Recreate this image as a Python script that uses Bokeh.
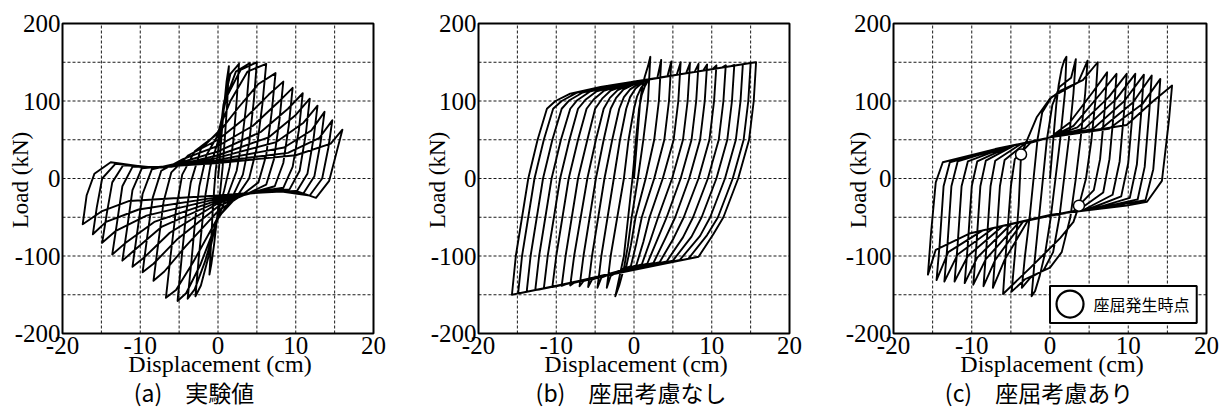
import math
from bokeh.plotting import figure
from bokeh.layouts import row
from bokeh.models import Range1d
from bokeh.core.properties import value
from bokeh.embed import file_html
from bokeh.resources import INLINE

# ---------------- axes / ticks ----------------
x_tick_values = [-20, -10, 0, 10, 20]
y_tick_values = [-200, -100, 0, 100, 200]
x_grid_values = [-15, -10, -5, 0, 5, 10, 15]
y_grid_values = [-150, -100, -50, 0, 50, 100, 150]
x_limits = (-20, 20)
y_limits = (-200, 200)
x_label = "Displacement (cm)"
y_label = "Load (kN)"
captions = ["(a)\u3000実験値", "(b)\u3000座屈考慮なし", "(c)\u3000座屈考慮あり"]

# ---------------- (a) 実験値 ----------------
a_pos_peak_x = [1.4, 2.7, 4.1, 5.0, 6.2, 7.4, 8.4, 9.6, 10.9, 11.8, 12.8, 13.7, 14.7, 16.0]
a_pos_peak_y = [145, 148, 149, 150, 148, 136, 125, 117, 110, 103, 94, 86, 75, 63]
a_neg_peak_x = [-1.1, -2.9, -3.9, -5.2, -6.7, -8.3, -9.7, -11.0, -12.3, -13.6, -14.9, -16.1, -17.4]
a_neg_peak_y = [-124, -152, -155, -158, -154, -132, -121, -114, -106, -98, -83, -72, -59]

a_load_steep = [(0.0, 0), (-0.9, -85), (-2.5, -105), (-3.4, -105), (-4.7, -105), (-6.1, -100), (-7.7, -85),
                (-9.1, -75), (-10.4, -70), (-11.7, -65), (-13.0, -58), (-14.3, -45), (-15.6, -38), (-16.9, -22)]
a_load_knee = [(0.1, 10), (-0.7, -45), (-2.0, -55), (-2.9, -50), (-4.1, -45), (-5.4, -40), (-7.0, -30),
               (-8.4, -25), (-9.7, -20), (-11.0, -15), (-12.3, -10), (-13.6, -5), (-14.9, 0), (-15.9, 6)]
a_load_bandstart = [(0.2, 22), (-0.5, -15), (-1.6, -20), (-2.4, -10), (-3.5, -5), (-4.6, 5), (-6.0, 8),
                    (-7.3, 10), (-8.5, 12), (-9.8, 13), (-11.0, 15), (-12.2, 17), (-13.2, 19), (-13.8, 21)]
a_load_band = [(0.3, 35), (-0.3, 10), (-1.0, 15), (-1.5, 30), (-2.2, 38), (-3.0, 35), (-3.8, 30),
               (-4.5, 25), (-5.0, 20), (-5.5, 17), (-6.0, 15), (-7.0, 14), (-8.0, 14), (-8.7, 14)]
a_load_hub = [(0.45, 55), (0, 35), (0, 48), (0, 56), (0, 60), (0, 58), (0, 50),
              (0, 42), (0, 35), (0, 30), (0, 27), (0, 24), (0, 22), (0, 20)]
a_load_fan = [(0.75, 90), (0.7, 95), (0.9, 100), (1.1, 105), (1.6, 100), (2.5, 90), (3.5, 78),
              (4.5, 68), (5.5, 60), (6.5, 53), (7.5, 47), (8.5, 40), (9.0, 33), (10.0, 30)]
a_load_near = [(1.1, 125), (1.6, 135), (2.3, 138), (2.9, 140), (3.8, 138), (5.2, 122), (6.5, 108),
               (7.7, 98), (9.0, 90), (10.0, 82), (11.0, 72), (12.0, 62), (13.0, 52), (14.5, 45)]

a_unload_steep = [(1.2, 100), (2.4, 100), (3.7, 100), (4.6, 100), (5.7, 95), (6.9, 85), (7.9, 75),
                  (9.1, 68), (10.4, 62), (11.3, 58), (12.3, 52), (13.2, 47), (14.2, 40), (15.2, 32)]
a_unload_knee = [(0.9, 55), (2.0, 50), (3.1, 50), (4.0, 45), (5.0, 40), (6.2, 30), (7.2, 25),
                 (8.4, 20), (9.6, 15), (10.5, 10), (11.5, 6), (12.4, 3), (13.4, 0), (14.3, -3)]
a_unload_bandstart = [(0.6, 15), (1.5, 15), (2.4, 10), (3.2, 5), (4.0, 0), (5.2, -5), (6.2, -8),
                      (7.3, -10), (8.4, -12), (9.2, -14), (10.1, -17), (11.0, -19), (11.8, -22), (12.6, -25)]
a_unload_band = [(0.3, -15), (0.8, -15), (1.3, -20), (1.8, -25), (2.3, -25), (3.0, -22), (3.7, -20),
                 (4.4, -18), (5.0, -17), (5.6, -16), (6.2, -16), (6.8, -16), (7.5, -16), (10.0, -16)]
a_unload_hub = [(0, -40), (0, -45), (0, -50), (0, -52), (0, -50), (0, -42), (0, -36),
                (0, -32), (0, -30), (0, -28), (0, -26), (0, -24), (0, -22), (5.7, -18)]
a_unload_desc = [(-0.5, -85), (-1.2, -100), (-1.7, -108), (-2.3, -112), (-3.2, -108), (-4.2, -88), (-5.2, -78),
                 (-6.2, -70), (-7.2, -62), (-8.2, -56), (-9.2, -48), (-10.2, -40), (-11.4, -29), (2.0, -21)]
a_unload_near = [(-0.85, -110), (-2.2, -138), (-3.0, -143), (-4.1, -148), (-5.4, -144), (-6.9, -120), (-8.3, -110),
                 (-9.5, -102), (-10.8, -93), (-12.0, -84), (-13.2, -68), (-14.4, -56), (-14.9, -42), (0.0, -23)]

# ---------------- (b) 座屈考慮なし ----------------
b_pos_peak_x = [2.1, 3.5, 4.8, 6.0, 7.2, 8.3, 9.4, 10.6, 11.8, 12.9, 14.0, 15.0, 15.7]
b_pos_peak_y = [157, 153, 151, 150, 149, 148, 147, 146, 146, 146.5, 147.5, 149, 150]
b_neg_peak_x = [-2.4, -3.5, -4.7, -5.9, -7.0, -8.2, -9.3, -10.5, -11.6, -12.7, -13.8, -14.9, -15.7]
b_neg_peak_y = [-152, -141, -141, -140, -139, -138, -138.5, -140, -142, -144, -146, -148, -150]

b_load_rise1 = [(0.0, 0), (-1.3, -100), (-3.0, -100), (-4.2, -100), (-5.4, -100), (-6.5, -100), (-7.7, -100),
                (-8.8, -100), (-10.0, -100), (-11.1, -100), (-12.2, -100), (-13.3, -100), (-14.4, -100), (-15.2, -100)]
b_load_rise2 = [(0.2, 25), (-0.2, 0), (-1.3, 0), (-2.6, 0), (-3.8, 0), (-4.9, 0), (-6.0, 0),
                (-7.2, 0), (-8.4, 0), (-9.5, 0), (-10.6, 0), (-11.7, 0), (-12.8, 0), (-13.6, 0)]
b_load_rise3 = [(0.4, 50), (0.25, 50), (-0.7, 50), (-1.8, 50), (-2.8, 50), (-3.9, 50), (-4.9, 50),
                (-6.0, 50), (-7.2, 50), (-8.3, 50), (-9.4, 50), (-10.5, 50), (-11.6, 50), (-12.4, 50)]
b_load_rise4 = [(0.6, 75), (0.65, 90), (0.0, 90), (-1.0, 90), (-1.9, 90), (-3.0, 90), (-3.9, 90),
                (-5.0, 90), (-6.1, 90), (-7.2, 90), (-8.2, 90), (-9.3, 90), (-10.4, 90), (-11.2, 90)]
b_load_knee = [(0.8, 100), (1.0, 108), (0.4, 106), (-0.5, 105), (-1.3, 105), (-2.3, 104), (-3.1, 104),
               (-4.1, 103), (-5.2, 102), (-6.2, 102), (-7.3, 101), (-8.3, 101), (-9.3, 100), (-10.1, 100)]
b_load_arc = [(1.1, 120), (1.4, 119), (0.9, 117), (0.2, 116), (-0.5, 115), (-1.4, 114.5), (-2.1, 114),
              (-3.0, 113.5), (-3.9, 113), (-4.8, 112.5), (-5.7, 112), (-6.6, 111), (-7.4, 110.5), (-8.2, 109.5)]
b_load_merge = [(1.4, 132), (1.9, 128), (1.8, 127.5), (1.5, 127), (1.2, 126.5), (0.9, 126), (0.6, 126),
                (0.2, 125.3), (-0.3, 124.5), (-0.9, 123.5), (-1.6, 122.4), (-2.4, 121.2), (-3.3, 119.7), (-4.3, 118.1)]
b_load_prepeak = [(1.8, 145), (3.0, 129.8), (4.3, 131.9), (5.5, 133.8), (6.7, 135.7), (7.8, 137.5), (8.9, 139.2),
                  (10.1, 141.2), (11.3, 143.1), (12.4, 144.8), (13.5, 146.6), (14.5, 148.2), (15.2, 149.3), (0.5, 125.8)]

b_unload_s1 = [(1.8, 100), (3.2, 100), (4.5, 100), (5.7, 100), (6.9, 100), (8.0, 100), (9.1, 100),
               (10.3, 100), (11.5, 100), (12.6, 100), (13.7, 100), (14.7, 100), (15.4, 100)]
b_unload_s2 = [(1.2, 50), (2.6, 50), (3.9, 50), (5.1, 50), (6.3, 50), (7.4, 50), (8.5, 50),
               (9.7, 50), (10.9, 50), (12.0, 50), (13.1, 50), (14.1, 50), (14.8, 50)]
b_unload_s3 = [(0.5, 0), (1.5, 0), (2.6, 0), (3.7, 0), (4.9, 0), (6.0, 0), (7.1, 0),
               (8.3, 0), (9.5, 0), (10.6, 0), (11.7, 0), (12.7, 0), (13.4, 0)]
b_unload_s4 = [(-0.3, -50), (0.2, -50), (1.0, -50), (2.0, -50), (3.1, -50), (4.2, -50), (5.3, -50),
               (6.4, -50), (7.6, -50), (8.7, -50), (9.8, -50), (10.8, -50), (11.5, -50)]
b_unload_bend = [(-0.8, -88), (-0.4, -86), (0.3, -84), (1.2, -82), (2.1, -80), (3.0, -79), (4.0, -78),
                 (5.1, -77), (6.3, -76), (7.4, -75), (8.5, -74), (9.4, -73), (10.2, -72)]
b_unload_merge = [(-1.3, -116), (-1.0, -114), (-0.4, -113), (0.3, -112), (1.0, -111), (1.7, -110), (2.5, -109),
                  (3.3, -108), (4.2, -107), (5.0, -106), (5.9, -105), (7.0, -103.5), (8.3, -101)]
b_unload_pretrough = [(-1.9, -138), (-3.0, -125.7), (-4.2, -128), (-5.4, -130.3), (-6.5, -132.4), (-7.7, -134.6),
                      (-8.8, -136.7), (-10.0, -139), (-11.1, -141.1), (-12.2, -143.2), (-13.3, -145.3),
                      (-14.4, -147.4), (-15.2, -148.9)]

# ---------------- (c) 座屈考慮あり ----------------
c_pos_peak_x = [2.1, 3.3, 4.8, 6.1, 7.3, 8.5, 9.8, 10.9, 12.0, 13.0, 14.1, 15.6]
c_pos_peak_y = [157, 154, 152, 150, 137, 135, 135, 135, 134, 133, 128.5, 120]
c_neg_peak_x = [-2.35, -3.6, -4.9, -6.0, -7.3, -8.5, -9.8, -10.9, -12.2, -13.5, -14.5, -15.6]
c_neg_peak_y = [-152, -141, -146, -149, -141, -139, -137, -135, -133, -133, -131, -124]

c_load_1 = [(0.0, 0), (-2.0, -110), (-3.2, -100), (-4.5, -100), (-5.6, -90), (-6.9, -85), (-8.1, -85),
            (-9.4, -85), (-10.5, -85), (-11.8, -85), (-13.1, -85), (-14.1, -85), (-15.2, -70)]
c_load_2 = [(0.25, 30), (-1.4, -50), (-2.6, -50), (-4.0, -35), (-5.0, -10), (-6.4, -10), (-7.6, -10),
            (-8.9, -10), (-10.0, -10), (-11.3, -10), (-12.6, -10), (-13.6, -10), (-14.6, -5)]
c_load_3 = [(0.5, 60), (-0.9, 0), (-2.1, 0), (-3.7, 31), (-4.5, 25), (-5.8, 24), (-7.0, 23),
            (-8.2, 23), (-9.3, 22), (-10.5, 22), (-11.8, 22), (-12.8, 21), (-13.7, 21)]
c_load_4 = [(0.8, 95), (-0.4, 50), (-1.6, 50), (-1.7, 79), (-2.5, 46), (-3.2, 45), (-3.8, 44),
            (-4.5, 43), (-5.0, 42), (-5.5, 41), (-6.0, 40), (-6.5, 39), (-7.0, 38)]
c_load_5 = [(1.1, 120), (0.3, 95), (-1.0, 85), (0.0, 103), (0, 53), (0, 53), (0, 53),
            (0, 53), (0, 53), (0, 53), (0, 53), (0, 53), (0, 53)]
c_load_6 = [(1.5, 142), (1.2, 118), (0.2, 105), (1.3, 113), (2.5, 72), (3.0, 68), (3.5, 66),
            (4.5, 65), (5.5, 64), (6.5, 64), (7.5, 64), (9.8, 69)]
c_load_7 = [(1.8, 152), (2.7, 130), (3.6, 124), (4.2, 127), (5.5, 112), (6.5, 110), (7.5, 105),
            (8.5, 103), (9.5, 100), (10.6, 98), (11.8, 96), (13.2, 100)]

c_unload_1 = [(1.9, 110), (3.0, 110), (4.5, 110), (5.8, 100), (7.0, 90), (8.2, 90), (9.5, 90),
              (10.6, 90), (11.7, 90), (12.7, 88), (13.8, 85), (15.2, 75)]
c_unload_2 = [(1.3, 50), (2.4, 50), (3.9, 50), (5.3, 50), (6.4, 25), (7.6, 25), (8.9, 22),
              (10.0, 20), (11.1, 18), (12.1, 15), (13.2, 12), (14.3, -3)]
c_unload_3 = [(0.7, 0), (1.8, 0), (3.3, 0), (4.6, 0), (5.6, -15), (6.8, -18), (8.0, -21),
              (9.1, -23), (10.2, -25), (11.2, -27), (12.2, -28), (12.4, -30)]
c_unload_4 = [(0.1, -50), (1.2, -50), (2.6, -50), (3.7, -35), (3.0, -42), (3.5, -42), (4.2, -41),
              (4.8, -40), (5.4, -39.5), (6.0, -38.5), (6.5, -38), (9.8, -35)]
c_unload_5 = [(-0.6, -95), (0.4, -95), (1.5, -95), (3.0, -56), (0, -48), (0, -48), (0, -48),
              (0, -47), (0, -47), (0, -47), (0, -47), (0, -47)]
c_unload_6 = [(-1.3, -125), (-0.8, -118), (0.0, -115), (1.3, -77), (-2.8, -54), (-3.4, -55), (-4.0, -57),
              (-5.0, -59), (-6.0, -61), (-7.2, -64), (-8.6, -67), (-10.3, -71)]
c_unload_7 = [(-1.9, -145), (-2.5, -128), (-3.2, -130), (-2.5, -115), (-5.8, -105), (-7.0, -105), (-8.2, -104),
              (-9.3, -102), (-10.5, -100), (-11.8, -98), (-13.0, -95), (-14.6, -92)]

c_buckle_x = [-3.7, 3.7]
c_buckle_y = [31, -35]
c_legend_label = "座屈発生時点"

# ---------------- layout constants (pixels) ----------------
FRAME_H = 310
TOP, BOTTOM = 23, 75
SERIF = "Liberation Serif"
CJK = "Noto Sans CJK JP"


def trace(load_roles, pos_x, pos_y, unload_roles, neg_x, neg_y):
    xs, ys = [], []
    n = max(len(r) for r in load_roles)
    for k in range(n):
        for role in load_roles:
            if k < len(role):
                xs.append(role[k][0]); ys.append(role[k][1])
        if k < len(pos_x):
            xs.append(pos_x[k]); ys.append(pos_y[k])
        for role in unload_roles:
            if k < len(role):
                xs.append(role[k][0]); ys.append(role[k][1])
        if k < len(neg_x):
            xs.append(neg_x[k]); ys.append(neg_y[k])
    return xs, ys


def panel(left_px, frame_w, right_px, caption, cap_shift_px, ylab_gap_px):
    x0, x1 = x_limits
    y0, y1 = y_limits
    ux = (x1 - x0) / frame_w       # data units per pixel (x)
    uy = (y1 - y0) / FRAME_H       # data units per pixel (y)
    p = figure(width=left_px + frame_w + right_px, height=TOP + FRAME_H + BOTTOM,
               x_range=Range1d(x0 - left_px * ux, x1 + right_px * ux),
               y_range=Range1d(y0 - BOTTOM * uy, y1 + TOP * uy),
               x_axis_location=None, y_axis_location=None,
               output_backend="svg", toolbar_location=None,
               min_border=0, min_border_left=0, min_border_right=0,
               min_border_top=0, min_border_bottom=0)
    p.background_fill_color = "white"
    p.border_fill_color = "white"
    p.outline_line_color = None
    p.xgrid.visible = False
    p.ygrid.visible = False

    # dashed grid
    p.segment(x0=x_grid_values, x1=x_grid_values, y0=[y0] * len(x_grid_values), y1=[y1] * len(x_grid_values),
              line_color="black", line_dash="3 2", line_width=1, line_alpha=0.9)
    p.segment(x0=[x0] * len(y_grid_values), x1=[x1] * len(y_grid_values), y0=y_grid_values, y1=y_grid_values,
              line_color="black", line_dash="3 2", line_width=1, line_alpha=0.9)

    # tick labels
    p.text(x=[x0 - 2 * ux] * len(y_tick_values), y=y_tick_values, text=[str(v) for v in y_tick_values],
           text_align="right", text_baseline="middle", text_font=value(SERIF),
           text_font_size=value("25px"), text_color="black")
    p.text(x=x_tick_values, y=[y0 - 12 * uy] * len(x_tick_values), text=[str(v) for v in x_tick_values],
           text_align="center", text_baseline="middle", text_font=value(SERIF),
           text_font_size=value("25px"), text_color="black")
    # axis titles
    p.text(x=[(x0 + x1) / 2 + 2 * ux], y=[y0 - 30 * uy], text=[x_label], text_align="center",
           text_baseline="middle", text_font=value(SERIF), text_font_size=value("24px"),
           text_color="black")
    p.text(x=[x0 - ylab_gap_px * ux], y=[(y0 + y1) / 2 - 1.5 * uy], text=[y_label], angle=math.pi / 2,
           text_align="center", text_baseline="middle", text_font=value(SERIF),
           text_font_size=value("23px"), text_color="black")
    # caption
    p.text(x=[(x0 + x1) / 2 + cap_shift_px * ux], y=[y0 - 58 * uy], text=[caption], text_align="center",
           text_baseline="middle", text_font=value(CJK), text_font_size=value("23px"),
           text_color="black")
    return p


def frame_box(p):
    p.quad(left=[x_limits[0]], right=[x_limits[1]], bottom=[y_limits[0]], top=[y_limits[1]],
           fill_alpha=0, line_color="black", line_width=2)


line_kw = dict(line_color="black", line_width=1.9, line_join="round")

# panel boundaries on the page: [0,420) [420,837) [837,1223)
pa = panel(62, 311, 47, captions[0], -24, 42)
ax_, ay_ = trace([a_load_steep, a_load_knee, a_load_bandstart, a_load_band, a_load_hub, a_load_fan, a_load_near],
                 a_pos_peak_x, a_pos_peak_y,
                 [a_unload_steep, a_unload_knee, a_unload_bandstart, a_unload_band, a_unload_hub, a_unload_desc, a_unload_near],
                 a_neg_peak_x, a_neg_peak_y)
pa.line(ax_, ay_, **line_kw)
frame_box(pa)

pb = panel(58, 311, 48, captions[1], -3, 41)
bx_, by_ = trace([b_load_rise1, b_load_rise2, b_load_rise3, b_load_rise4, b_load_knee, b_load_arc, b_load_merge, b_load_prepeak],
                 b_pos_peak_x, b_pos_peak_y,
                 [b_unload_s1, b_unload_s2, b_unload_s3, b_unload_s4, b_unload_bend, b_unload_merge, b_unload_pretrough],
                 b_neg_peak_x, b_neg_peak_y)
pb.line(bx_, by_, **line_kw)
frame_box(pb)

pc = panel(56, 313, 17, captions[2], -11, 35)
cx_, cy_ = trace([c_load_1, c_load_2, c_load_3, c_load_4, c_load_5, c_load_6, c_load_7],
                 c_pos_peak_x, c_pos_peak_y,
                 [c_unload_1, c_unload_2, c_unload_3, c_unload_4, c_unload_5, c_unload_6, c_unload_7],
                 c_neg_peak_x, c_neg_peak_y)
pc.line(cx_, cy_, **line_kw)
pc.scatter(c_buckle_x, c_buckle_y, size=11, marker="circle", fill_color="white",
           line_color="black", line_width=1.5)

# legend box (lower right of panel c)
pc.quad(left=[0.0], right=[18.75], top=[-138.6], bottom=[-186.4],
        fill_color="white", line_color="black", line_width=2)
pc.scatter([2.56], [-162], size=27, marker="circle", fill_color="white",
           line_color="black", line_width=2.2)
pc.text([5.55], [-162], text=[c_legend_label], text_font=value(CJK),
        text_font_size=value("16px"), text_baseline="middle", text_align="left", text_color="black")
frame_box(pc)

layout = row(pa, pb, pc)
open("out.html", "w").write(file_html(layout, INLINE, title="hysteresis"))
